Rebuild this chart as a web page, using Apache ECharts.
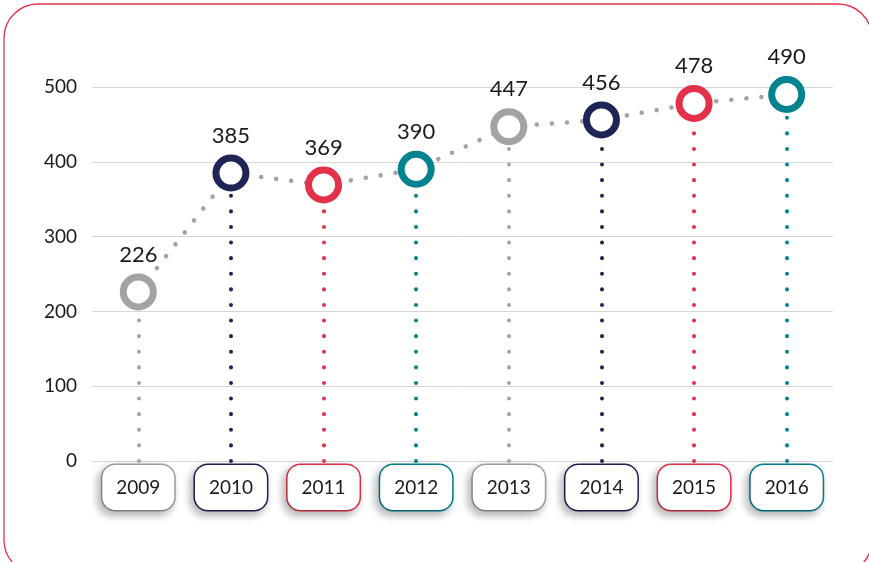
<!DOCTYPE html>
<html>
<head>
<meta charset="utf-8">
<script src="https://cdn.jsdelivr.net/npm/echarts@6/dist/echarts.min.js"></script>
<style>
  html, body { margin: 0; padding: 0; background: #fff; }
  #chart { width: 869px; height: 562px; }
</style>
</head>
<body>
<div id="chart"></div>
<script>
// data
const years = [ '2009', '2010', '2011', '2012', '2013', '2014', '2015', '2016' ];
const values = [ 226, 385, 369, 390, 447, 456, 478, 490 ];
const yTicks = [ 0, 100, 200, 300, 400, 500 ];

// colour cycle used by the markers, drops and year boxes
const palette = [ '#a3a3a3', '#1f2356', '#e4314a', '#00838f' ];
const colorOf = ( i ) => palette[ i % palette.length ];

const FONT = 'Lato, "Open Sans", sans-serif';

const rich = {};
years.forEach( ( y, i ) => {
	rich[ 'c' + i ] = {
		width: 72,
		height: 45,
		lineHeight: 45,
		align: 'center',
		fontSize: 19,
		fontFamily: FONT,
		color: '#1a1a1a',
		backgroundColor: '#fff',
		borderColor: colorOf( i ),
		borderWidth: 1.5,
		borderRadius: 13,
		shadowColor: 'rgba(0,0,0,0.28)',
		shadowBlur: 8,
		shadowOffsetX: -3,
		shadowOffsetY: 4
	};
} );

const pointData = values.map( ( v, i ) => ( {
	value: v,
	itemStyle: { borderColor: colorOf( i ) }
} ) );

const dropLines = values.map( ( v, i ) => [
	{ coord: [ i, 0 ], lineStyle: { color: colorOf( i ) } },
	{ coord: [ i, v ] }
] );

const chart = echarts.init( document.getElementById( 'chart' ), null, { renderer: 'canvas' } );

chart.setOption( {
	animation: false,
	graphic: [ {
		type: 'rect',
		shape: { x: 4, y: 4, width: 868, height: 570, r: 34 },
		style: { fill: 'none', stroke: '#e4314a', lineWidth: 1.3 },
		z: -10
	} ],
	grid: { left: 92, right: 36, top: 87, bottom: 101 },
	xAxis: {
		type: 'category',
		data: years,
		boundaryGap: true,
		axisLine: { show: false },
		axisTick: { show: false },
		axisLabel: {
			margin: 4,
			formatter: ( val, i ) => '{c' + i + '|' + val + '}',
			rich
		}
	},
	yAxis: {
		type: 'value',
		min: yTicks[ 0 ],
		max: yTicks[ yTicks.length - 1 ],
		interval: 100,
		axisLine: { show: false },
		axisTick: { show: false },
		axisLabel: { margin: 15, fontSize: 19, fontFamily: FONT, color: '#1a1a1a' },
		splitLine: { lineStyle: { color: '#d6d6d6', width: 1 } }
	},
	series: [ {
		type: 'line',
		data: pointData,
		symbol: 'circle',
		symbolSize: 30,
		z: 5,
		itemStyle: { color: '#fff', borderWidth: 7 },
		lineStyle: { color: '#a3a3a3', width: 4.5, type: [ 0.1, 15 ], cap: 'round' },
		label: {
			show: true,
			position: 'top',
			distance: 8,
			fontSize: 22,
			fontFamily: FONT,
			color: '#1a1a1a'
		},
		markLine: {
			silent: true,
			symbol: 'none',
			label: { show: false },
			lineStyle: { width: 4, type: [ 0.1, 15.5 ], cap: 'round' },
			data: dropLines,
			z: 1
		}
	} ]
} );
</script>
</body>
</html>
